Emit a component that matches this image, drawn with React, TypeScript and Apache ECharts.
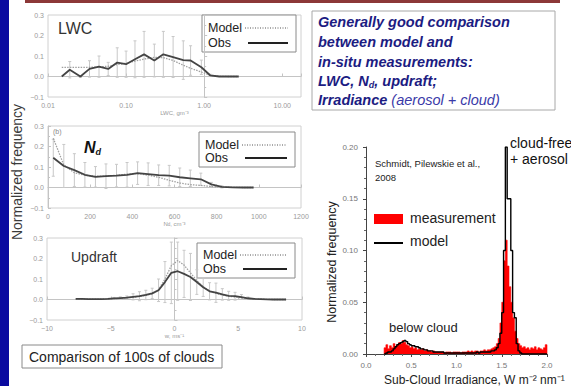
import React, { useEffect, useRef } from "react";
import * as echarts from "echarts";

// ---------- LWC panel ----------
const lwcBins = [0.015, 0.019, 0.026, 0.034, 0.045, 0.059, 0.077, 0.10, 0.13, 0.17, 0.23, 0.30, 0.40, 0.54, 0.67, 0.92, 1.19, 1.56, 2.03, 2.77];
const lwcObs = [0.0, 0.033, 0.0, 0.037, 0.048, 0.037, 0.068, 0.06, 0.084, 0.108, 0.078, 0.108, 0.095, 0.08, 0.078, 0.045, 0.006, 0.0, 0.0, 0.0];
const lwcModel = [0.045, 0.045, 0.045, 0.045, 0.047, 0.05, 0.058, 0.065, 0.075, 0.085, 0.093, 0.092, 0.078, 0.055, 0.04, 0.022, 0.006, 0.001, 0.0, 0.0];
const lwcErr = [0, 0.04, 0.005, 0.04, 0.052, 0.032, 0.072, 0.064, 0.09, 0.112, 0.08, 0.112, 0.1, 0.094, 0.072, 0.035, 0.005, 0, 0, 0];
const lwcTicks = [0.01, 0.1, 1, 10];

// ---------- Nd panel ----------
const ndBins = [25, 75, 125, 175, 225, 275, 325, 375, 425, 475, 525, 575, 625, 675, 725, 775, 825, 875, 925, 975];
const ndObs = [0.145, 0.105, 0.085, 0.062, 0.052, 0.055, 0.058, 0.062, 0.07, 0.065, 0.06, 0.058, 0.05, 0.045, 0.04, 0.015, 0.003, 0.001, 0, 0];
const ndModel = [0.24, 0.11, 0.072, 0.06, 0.055, 0.056, 0.06, 0.065, 0.068, 0.06, 0.05, 0.035, 0.022, 0.014, 0.01, 0.005, 0.002, 0.001, 0, 0];
const ndErr = [0.09, 0.105, 0.08, 0.06, 0.05, 0.06, 0.055, 0.06, 0.055, 0.055, 0.05, 0.05, 0.045, 0.04, 0.03, 0.01, 0.005, 0, 0, 0];

// ---------- Updraft panel ----------
const wBins = [-7.75, -7.25, -6.75, -6.25, -5.75, -5.25, -4.75, -4.25, -3.75, -3.25, -2.75, -2.25, -1.75, -1.25, -0.75, -0.25, 0.25, 0.75, 1.25, 1.75, 2.25, 2.75, 3.25, 3.75, 4.25, 4.75, 5.25, 5.75, 6.25, 6.75, 7.25, 7.75, 8.25, 8.75];
const wObs = [0.003, 0.003, 0.002, 0.002, 0.002, 0.003, 0.005, 0.007, 0.009, 0.013, 0.016, 0.022, 0.03, 0.045, 0.085, 0.13, 0.138, 0.125, 0.11, 0.085, 0.06, 0.04, 0.033, 0.025, 0.018, 0.016, 0.012, 0.006, 0.003, 0.002, 0.001, 0, 0, 0];
const wModel = [0.002, 0.002, 0.002, 0.002, 0.002, 0.003, 0.004, 0.006, 0.008, 0.011, 0.015, 0.02, 0.028, 0.048, 0.1, 0.165, 0.19, 0.168, 0.13, 0.092, 0.062, 0.042, 0.03, 0.022, 0.016, 0.012, 0.008, 0.005, 0.003, 0.002, 0.001, 0, 0, 0];
const wErr = [0.002, 0.002, 0.002, 0.002, 0.002, 0.003, 0.005, 0.006, 0.008, 0.015, 0.022, 0.023, 0.025, 0.055, 0.1, 0.15, 0.142, 0.115, 0.115, 0.06, 0.045, 0.042, 0.047, 0.028, 0.022, 0.019, 0.012, 0.006, 0.003, 0.002, 0.001, 0, 0, 0];

// ---------- Irradiance panel (bins of 0.02 starting at 0.20) ----------
const irrBinStart = 0.2;
const irrBinWidth = 0.02;
const irrMeasurement = [
  0.006, 0.009, 0.005, 0.008, 0.006, 0.010, 0.007, 0.009, 0.011, 0.010,
  0.013, 0.011, 0.009, 0.008, 0.006, 0.007, 0.005, 0.006, 0.004, 0.005,
  0.004, 0.005, 0.003, 0.004, 0.003, 0.003, 0.002, 0.003, 0.002, 0.002,
  0.002, 0.002, 0.002, 0.001, 0.002, 0.002, 0.002, 0.001, 0.002, 0.002,
  0.002, 0.002, 0.001, 0.002, 0.002, 0.002, 0.003, 0.002, 0.003, 0.002,
  0.003, 0.003, 0.002, 0.003, 0.003, 0.004, 0.003, 0.004, 0.004, 0.005,
  0.006, 0.007, 0.010, 0.015, 0.030, 0.050, 0.090, 0.110, 0.085, 0.065,
  0.050, 0.035, 0.022, 0.015, 0.010, 0.008, 0.006, 0.007, 0.005, 0.006,
  0.004, 0.006, 0.005, 0.007, 0.004, 0.006, 0.005, 0.004, 0.006, 0.009,
];
const irrModel = [
  0.000, 0.001, 0.002, 0.002, 0.003, 0.005, 0.007, 0.009, 0.010, 0.011,
  0.012, 0.013, 0.012, 0.010, 0.009, 0.008, 0.008, 0.007, 0.007, 0.006,
  0.005, 0.005, 0.004, 0.004, 0.003, 0.003, 0.003, 0.002, 0.002, 0.002,
  0.002, 0.002, 0.002, 0.001, 0.001, 0.001, 0.001, 0.001, 0.001, 0.001,
  0.001, 0.001, 0.001, 0.001, 0.001, 0.001, 0.001, 0.001, 0.001, 0.001,
  0.001, 0.002, 0.001, 0.002, 0.002, 0.002, 0.002, 0.002, 0.002, 0.003,
  0.003, 0.004, 0.006, 0.010, 0.020, 0.040, 0.100, 0.200, 0.150, 0.150,
  0.100, 0.040, 0.035, 0.010, 0.003, 0.001, 0.000, 0.000, 0.000, 0.000,
  0.000, 0.000, 0.000, 0.000, 0.000, 0.000, 0.000, 0.000, 0.000, 0.000,
];

const FF = "'Liberation Sans', Arial, Helvetica, sans-serif";
const NAVY = "#1c1c82";
const AX = "#c4c4c4";
const LBL = "#9a9a9a";

const fmtSigned = (v: number, d: number) => {
  const s = (Math.abs(v) < 1e-9 ? 0 : v).toFixed(d);
  return s.replace("-", "\u2212");
};

function histPoints(values: number[]) {
  const pts: number[][] = [[irrBinStart, 0]];
  values.forEach((v, i) => {
    const a = irrBinStart + i * irrBinWidth;
    pts.push([a, v], [a + irrBinWidth, v]);
  });
  pts.push([irrBinStart + values.length * irrBinWidth, 0]);
  return pts;
}

const errRender = (params: any, api: any) => {
  const x = api.value(0);
  const lo = api.value(1);
  const hi = api.value(2);
  const a = api.coord([x, hi]);
  const b = api.coord([x, lo]);
  const style = { stroke: "#c8c8c8", lineWidth: 1 };
  return {
    type: "group",
    children: [
      { type: "line", shape: { x1: a[0], y1: a[1], x2: b[0], y2: b[1] }, style },
      { type: "line", shape: { x1: a[0] - 1.5, y1: a[1], x2: a[0] + 1.5, y2: a[1] }, style },
      { type: "line", shape: { x1: b[0] - 1.5, y1: b[1], x2: b[0] + 1.5, y2: b[1] }, style },
    ],
  };
};

function leftX(gridIndex: number, min: number, max: number, interval: number, name: string, formatter: any, rich?: any) {
  return {
    gridIndex,
    type: "value",
    min,
    max,
    interval,
    name,
    nameLocation: "middle",
    nameGap: 13,
    nameTextStyle: { fontSize: 6, color: LBL, fontFamily: FF, rich },
    axisLine: { show: true, lineStyle: { color: AX } },
    axisTick: { show: true, inside: true, length: 3, lineStyle: { color: AX } },
    splitLine: { show: false },
    axisLabel: { fontSize: 7, color: LBL, margin: 5, fontFamily: FF, formatter },
  };
}

function leftY(gridIndex: number) {
  return {
    gridIndex,
    type: "value",
    min: -0.1,
    max: 0.3,
    interval: 0.1,
    axisLine: { show: true, lineStyle: { color: AX } },
    axisTick: { show: true, inside: true, length: 3, lineStyle: { color: AX } },
    minorTick: { show: true, splitNumber: 2, length: 2, lineStyle: { color: AX } },
    splitLine: { show: false },
    axisLabel: { fontSize: 7, color: LBL, margin: 4, fontFamily: FF, formatter: (v: number) => fmtSigned(v, 1) },
  };
}

function panelSeries(idx: number, xs: number[], obs: number[], model: number[], err: number[]) {
  const errData = xs
    .map((x, k) => [x, obs[k] - err[k], obs[k] + err[k], err[k]])
    .filter((d) => d[3] > 0.0045);
  return [
    {
      type: "custom",
      xAxisIndex: idx,
      yAxisIndex: idx,
      renderItem: errRender,
      encode: { x: 0, y: [1, 2] },
      data: errData,
      clip: true,
      z: 1,
    },
    {
      type: "line",
      xAxisIndex: idx,
      yAxisIndex: idx,
      data: xs.map((x, k) => [x, model[k]]),
      showSymbol: false,
      lineStyle: { color: "#a0a0a0", width: 1.3, type: [1.5, 1.2] },
      z: 2,
    },
    {
      type: "line",
      xAxisIndex: idx,
      yAxisIndex: idx,
      data: xs.map((x, k) => [x, obs[k]]),
      showSymbol: false,
      lineStyle: { color: "#444444", width: 1.8 },
      z: 3,
    },
  ];
}

function legendBox(x: number, y: number, w: number, h: number, y1: number, y2: number) {
  return [
    { type: "rect", shape: { x, y, width: w, height: h }, style: { fill: "#fff", stroke: "#8a8a8a", lineWidth: 1 } },
    { type: "text", x: x + 6, y: y1, style: { text: "Model", fontSize: 12.5, fontFamily: FF, fill: "#222", verticalAlign: "middle" } },
    { type: "line", shape: { x1: x + 43, y1, x2: x + w - 8, y2: y1 }, style: { stroke: "#555", lineWidth: 1, lineDash: [1, 1.5] } },
    { type: "text", x: x + 6, y: y2, style: { text: "Obs", fontSize: 12.5, fontFamily: FF, fill: "#222", verticalAlign: "middle" } },
    { type: "line", shape: { x1: x + 46, y1: y2, x2: x + w - 8, y2 }, style: { stroke: "#222", lineWidth: 2 } },
  ];
}

function txt(x: number, y: number, text: string, fontSize: number, extra: any = {}) {
  return {
    type: "text",
    x,
    y,
    style: { text, fontSize, fontFamily: FF, fill: "#222", verticalAlign: "middle", ...extra },
  };
}

export default function App() {
  const ref = useRef<HTMLDivElement>(null);

  useEffect(() => {
    if (!ref.current) return;
    const chart = echarts.init(ref.current, null, { renderer: "svg" });

    const boxLine = (y: number, text: string, rich?: any) => ({
      type: "text",
      x: 318,
      y,
      style: {
        text,
        fontSize: 14.5,
        fontFamily: FF,
        fontWeight: "bold",
        fontStyle: "italic",
        fill: NAVY,
        verticalAlign: "middle",
        rich,
      },
    });

    const option: any = {
      animation: false,
      backgroundColor: "#ffffff",
      grid: [
        { left: 48, top: 15, width: 253, height: 82, show: true, borderColor: "#d0d0d0", borderWidth: 1 },
        { left: 48, top: 126, width: 253, height: 82, show: true, borderColor: "#d0d0d0", borderWidth: 1 },
        { left: 47, top: 238, width: 255, height: 82, show: true, borderColor: "#d0d0d0", borderWidth: 1 },
        { left: 366, top: 147, width: 181, height: 207, show: false },
      ],
      xAxis: [
        leftX(0, Math.log10(lwcTicks[0]), 1.24, 1, "LWC, gm\u207B\u00B3", (v: number) =>
          lwcTicks.some((t) => Math.abs(Math.log10(t) - v) < 1e-9) ? Math.pow(10, v).toFixed(2) : ""
        ),
        leftX(1, 0, 1200, 200, "{n|N}{s|d}{n|, cm\u207B\u00B3}", (v: number) => String(v), {
          n: { fontSize: 6, color: LBL, fontFamily: FF },
          s: { fontSize: 4.5, color: LBL, fontFamily: FF, verticalAlign: "bottom" },
        }),
        leftX(2, -10, 10, 5, "w, ms\u207B\u00B9", (v: number) => fmtSigned(v, 0)),
        {
          gridIndex: 3,
          type: "value",
          min: 0,
          max: 2,
          interval: 0.5,
          axisLine: { show: true, lineStyle: { color: "#444", width: 1 } },
          axisTick: { show: true, length: 3, lineStyle: { color: "#444" } },
          minorTick: { show: true, splitNumber: 5, length: 2, lineStyle: { color: "#666" } },
          splitLine: { show: false },
          axisLabel: { fontSize: 8, color: "#777", margin: 7, fontFamily: FF, formatter: (v: number) => v.toFixed(1) },
        },
      ],
      yAxis: [
        leftY(0),
        leftY(1),
        leftY(2),
        {
          gridIndex: 3,
          type: "value",
          min: 0,
          max: 0.2,
          interval: 0.05,
          axisLine: { show: true, lineStyle: { color: "#444", width: 1 } },
          axisTick: { show: true, length: 3, lineStyle: { color: "#444" } },
          minorTick: { show: true, splitNumber: 5, length: 2, lineStyle: { color: "#666" } },
          splitLine: { show: false },
          axisLabel: { fontSize: 8, color: "#777", margin: 8, fontFamily: FF, formatter: (v: number) => v.toFixed(2) },
        },
      ],
      series: [
        ...panelSeries(0, lwcBins.map((v) => Math.log10(v)), lwcObs, lwcModel, lwcErr),
        ...panelSeries(1, ndBins, ndObs, ndModel, ndErr),
        ...panelSeries(2, wBins, wObs, wModel, wErr),
        {
          type: "line",
          name: "measurement",
          xAxisIndex: 3,
          yAxisIndex: 3,
          data: histPoints(irrMeasurement),
          showSymbol: false,
          lineStyle: { color: "#ff0000", width: 0.6 },
          areaStyle: { color: "#ff0000", opacity: 1 },
          z: 2,
        },
        {
          type: "line",
          name: "model",
          xAxisIndex: 3,
          yAxisIndex: 3,
          data: histPoints(irrModel),
          showSymbol: false,
          lineStyle: { color: "#000000", width: 1.4 },
          z: 3,
        },
      ],
      graphic: [
        { type: "rect", z: 0, shape: { x: 0, y: 0, width: 9, height: 386 }, style: { fill: "#0a0aa0" } },
        { type: "rect", z: 0, shape: { x: 25, y: 0, width: 535, height: 3 }, style: { fill: "#8c3838" } },
        {
          type: "group",
          z: 100,
          children: [
            ...legendBox(202, 15, 94, 37, 28, 43),
            ...legendBox(199, 132, 96, 35, 145, 158),
            ...legendBox(197, 243, 98, 35, 255, 269),
            txt(58, 28, "LWC", 16, { fill: "#333" }),
            txt(53, 131, "(b)", 7, { fill: "#888" }),
            {
              type: "text",
              x: 84,
              y: 147,
              style: {
                text: "{a|N}{b|d}",
                verticalAlign: "middle",
                rich: {
                  a: { fontSize: 16, fontWeight: "bold", fontStyle: "italic", fontFamily: FF, fill: "#111", lineHeight: 18 },
                  b: { fontSize: 9, fontWeight: "bold", fontStyle: "italic", fontFamily: FF, fill: "#111", lineHeight: 9, verticalAlign: "bottom" },
                },
              },
            },
            txt(71, 257, "Updraft", 14, { fill: "#333" }),
            {
              type: "text",
              x: 17,
              y: 172,
              rotation: Math.PI / 2,
              style: { text: "Normalized frequency", fontSize: 14, fontFamily: FF, fill: "#3a3a3a", align: "center", verticalAlign: "middle" },
            },
            { type: "rect", shape: { x: 22, y: 345, width: 200, height: 23 }, style: { fill: "#fff", stroke: "#8a8a8a", lineWidth: 1 } },
            txt(29, 357, "Comparison of 100s of clouds", 14, { fill: "#222" }),
            // top-right text box
            { type: "rect", shape: { x: 312, y: 11, width: 243, height: 99 }, style: { fill: "#fff", stroke: "#a8a8a8", lineWidth: 1 } },
            boxLine(22, "Generally good comparison"),
            boxLine(42, "between model and"),
            boxLine(62, "in-situ measurements:"),
            boxLine(81, "{t|LWC, N}{s|d}{t|, updraft;}", {
              t: { fontSize: 14.5, fontWeight: "bold", fontStyle: "italic", fontFamily: FF, fill: NAVY, lineHeight: 17 },
              s: { fontSize: 9, fontWeight: "bold", fontStyle: "italic", fontFamily: FF, fill: NAVY, lineHeight: 9, verticalAlign: "bottom" },
            }),
            boxLine(100, "{t|Irradiance}{n| (aerosol + cloud)}", {
              t: { fontSize: 14.5, fontWeight: "bold", fontStyle: "italic", fontFamily: FF, fill: NAVY },
              n: { fontSize: 14.5, fontWeight: "normal", fontStyle: "italic", fontFamily: FF, fill: "#3a3aa8" },
            }),
            // right chart annotations
            {
              type: "text",
              x: 332,
              y: 262,
              rotation: Math.PI / 2,
              style: { text: "Normalized frequency", fontSize: 12.5, fontFamily: FF, fill: "#222", align: "center", verticalAlign: "middle" },
            },
            txt(384, 380, "Sub-Cloud Irradiance, W m\u207B\u00B2 nm\u207B\u00B9", 12, { fill: "#222" }),
            txt(375, 163, "Schmidt, Pilewskie et al.,", 9.5, { fill: "#222" }),
            txt(375, 177, "2008", 9.5, { fill: "#222" }),
            txt(510, 143, "cloud-free", 14, { fill: "#111" }),
            txt(510, 159, "+ aerosol", 14, { fill: "#111" }),
            { type: "rect", shape: { x: 374, y: 214, width: 29, height: 10 }, style: { fill: "#ff0000" } },
            txt(410, 218, "measurement", 14, { fill: "#222" }),
            { type: "line", shape: { x1: 374, y1: 243, x2: 403, y2: 243 }, style: { stroke: "#000", lineWidth: 2 } },
            txt(410, 241, "model", 14, { fill: "#222" }),
            txt(389, 327, "below cloud", 13, { fill: "#222" }),
          ],
        },
      ],
    };

    chart.setOption(option);
    return () => chart.dispose();
  }, []);

  return (
    <div
      ref={ref}
      style={{ position: "fixed", left: 0, top: 0, width: 571, height: 386, background: "#fff" }}
    />
  );
}
